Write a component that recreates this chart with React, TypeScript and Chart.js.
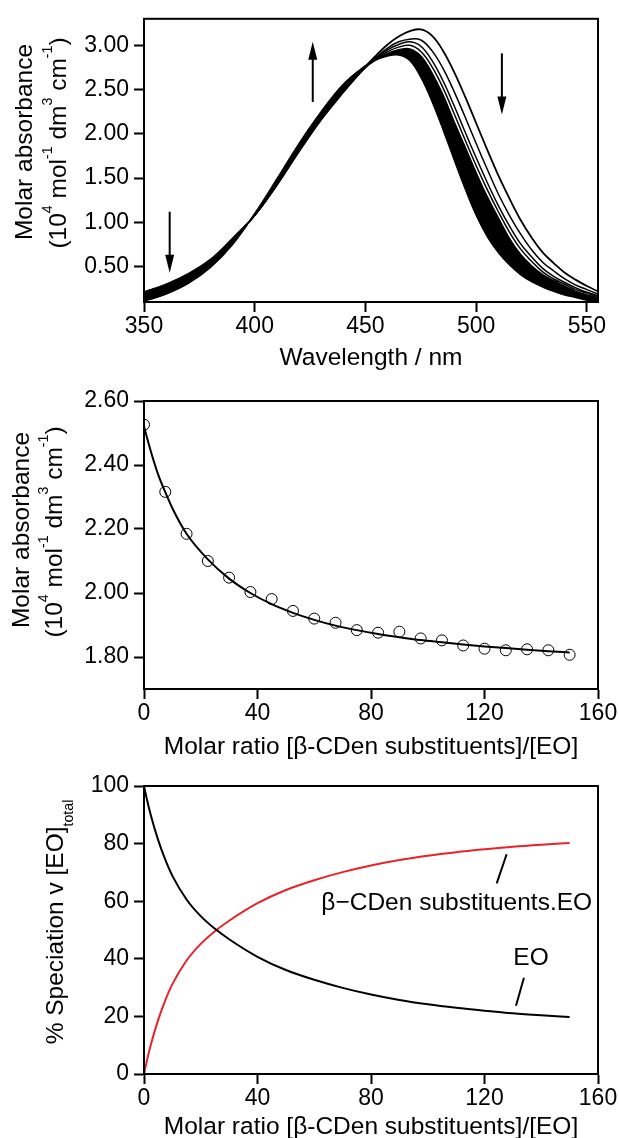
import { useEffect, useRef } from "react";
import { Chart, registerables } from "chart.js";

Chart.register(...registerables);

const FONT = '"Liberation Sans", Arial, Helvetica, sans-serif';
const TICK_SIZE = 23;
const TITLE_SIZE = 24.5;

// ---------------- Panel 1 : spectra ----------------
const wavelengths = [350, 360, 370, 380, 390, 400, 410, 420, 430, 440, 450, 455, 460, 465, 470, 475, 480, 485, 490, 495, 500, 505, 510, 515, 520, 525, 530, 535, 540, 545, 550, 555];
const absFreeEO = [0.21, 0.30, 0.42, 0.58, 0.82, 1.08, 1.42, 1.80, 2.16, 2.47, 2.76, 2.89, 3.01, 3.10, 3.16, 3.18, 3.11, 2.94, 2.70, 2.42, 2.12, 1.82, 1.53, 1.27, 1.03, 0.83, 0.66, 0.54, 0.43, 0.35, 0.28, 0.22];
const absSecond = [0.21, 0.29, 0.41, 0.57, 0.81, 1.08, 1.43, 1.81, 2.17, 2.48, 2.76, 2.87, 2.97, 3.04, 3.07, 3.06, 2.94, 2.74, 2.48, 2.19, 1.89, 1.60, 1.32, 1.08, 0.87, 0.69, 0.55, 0.45, 0.36, 0.29, 0.24, 0.19];
const absThird = [0.20, 0.29, 0.41, 0.57, 0.81, 1.08, 1.43, 1.82, 2.18, 2.49, 2.76, 2.86, 2.95, 3.01, 3.04, 2.99, 2.83, 2.60, 2.32, 2.02, 1.73, 1.45, 1.19, 0.96, 0.76, 0.61, 0.48, 0.39, 0.32, 0.26, 0.21, 0.17];
const absFourth = [0.21, 0.29, 0.41, 0.57, 0.81, 1.08, 1.43, 1.81, 2.17, 2.48, 2.75, 2.85, 2.93, 2.98, 3.00, 2.93, 2.76, 2.52, 2.23, 1.93, 1.64, 1.37, 1.12, 0.89, 0.70, 0.56, 0.44, 0.36, 0.30, 0.24, 0.20, 0.16];
const bandRedEdge = [0.21, 0.29, 0.41, 0.57, 0.81, 1.08, 1.43, 1.81, 2.17, 2.48, 2.75, 2.84, 2.91, 2.95, 2.96, 2.88, 2.69, 2.44, 2.14, 1.85, 1.56, 1.29, 1.05, 0.82, 0.64, 0.51, 0.41, 0.34, 0.28, 0.22, 0.18, 0.15];
const bandBlueEdge = [0.11, 0.19, 0.31, 0.49, 0.75, 1.10, 1.49, 1.89, 2.25, 2.56, 2.77, 2.84, 2.88, 2.89, 2.83, 2.64, 2.37, 2.05, 1.71, 1.38, 1.08, 0.84, 0.66, 0.52, 0.41, 0.33, 0.27, 0.22, 0.18, 0.15, 0.12, 0.10];
const p1XTicks = [350, 400, 450, 500, 550];
const p1YTicks = [0.5, 1.0, 1.5, 2.0, 2.5, 3.0];
// arrows: [wavelength, start absorbance, tip absorbance]
const p1Arrows = [
  [361.6, 1.12, 0.43],
  [426.2, 2.36, 3.04],
  [511.6, 2.91, 2.22],
];

// ---------------- Panel 2 : titration ----------------
const ratioPoints = [0, 7.5, 15, 22.5, 30, 37.5, 45, 52.5, 60, 67.5, 75, 82.5, 90, 97.5, 105, 112.5, 120, 127.5, 135, 142.5, 150];
const absPoints = [2.526, 2.316, 2.185, 2.100, 2.048, 2.003, 1.981, 1.944, 1.920, 1.907, 1.884, 1.876, 1.879, 1.858, 1.852, 1.836, 1.826, 1.821, 1.824, 1.821, 1.807];
const fitRatio = [0, 2.5, 5, 7.5, 10, 15, 22.5, 30, 37.5, 45, 52.5, 60, 67.5, 75, 82.5, 90, 97.5, 105, 112.5, 120, 127.5, 135, 142.5, 150];
const fitAbs = [2.52, 2.44, 2.37, 2.315, 2.265, 2.185, 2.105, 2.045, 2.0, 1.965, 1.938, 1.916, 1.898, 1.884, 1.872, 1.862, 1.853, 1.846, 1.839, 1.833, 1.828, 1.823, 1.818, 1.814];
const ratioTicks = [0, 40, 80, 120, 160];
const p2YTicks = [1.8, 2.0, 2.2, 2.4, 2.6];

// ---------------- Panel 3 : speciation ----------------
const specRatio = [0, 1, 2.5, 5, 7.5, 10, 15, 20, 25, 30, 40, 50, 60, 70, 80, 90, 100, 110, 120, 130, 140, 150];
const freeEO = [100, 95.5, 89.5, 81.2, 74.4, 68.8, 60.6, 54.8, 50.4, 46.8, 40.7, 36.1, 32.7, 29.9, 27.6, 25.7, 24.2, 23.0, 22.0, 21.1, 20.4, 19.8];
const complexEO = [0, 4.5, 10.5, 18.8, 25.6, 31.2, 39.4, 45.2, 49.6, 53.2, 59.3, 63.9, 67.3, 70.1, 72.4, 74.3, 75.8, 77.0, 78.0, 78.9, 79.6, 80.2];
const p3YTicks = [0, 20, 40, 60, 80, 100];
// labels: [text, x, y] in data units; leaders: [x0, y0, x1, y1]
const p3Labels: [string, number, number][] = [
  ["\u03B2\u2212CDen substituents.EO", 110.2, 59.2],
  ["EO", 136.4, 40.1],
];
const p3Leaders = [
  [127.8, 76.3, 124.3, 66.2],
  [133.9, 33.4, 131.1, 23.7],
];

const RED = "#e8232a";

type Seg = { t: string; s?: "sup" | "sub" };
const unitSegs: Seg[] = [
  { t: "(10" }, { t: "4", s: "sup" }, { t: " mol" }, { t: "-1", s: "sup" },
  { t: " dm" }, { t: "3", s: "sup" }, { t: " cm" }, { t: "-1", s: "sup" }, { t: ")" },
];
const molarSegs: Seg[] = [{ t: "Molar absorbance" }];
const specSegs: Seg[] = [{ t: "% Speciation v [EO]" }, { t: "total", s: "sub" }];

function xy(xs: number[], ys: number[]) {
  return xs.map((x, i) => ({ x, y: ys[i] }));
}

function drawVerticalRich(ctx: CanvasRenderingContext2D, segs: Seg[], baseX: number, cy: number, size: number) {
  ctx.save();
  ctx.translate(baseX, cy);
  ctx.rotate(-Math.PI / 2);
  ctx.fillStyle = "#000";
  ctx.textAlign = "left";
  ctx.textBaseline = "alphabetic";
  const small = size * 0.58;
  const widths = segs.map((sg) => {
    ctx.font = `${sg.s ? small : size}px ${FONT}`;
    return ctx.measureText(sg.t).width;
  });
  const total = widths.reduce((a, b) => a + b, 0);
  let u = -total / 2;
  segs.forEach((sg, i) => {
    ctx.font = `${sg.s ? small : size}px ${FONT}`;
    const dv = sg.s === "sup" ? -size * 0.58 : sg.s === "sub" ? size * 0.4 : 0;
    ctx.fillText(sg.t, u, dv);
    u += widths[i];
  });
  ctx.restore();
}

function drawText(ctx: CanvasRenderingContext2D, text: string, x: number, y: number, size: number, baseline: CanvasTextBaseline) {
  ctx.save();
  ctx.fillStyle = "#000";
  ctx.font = `${size}px ${FONT}`;
  ctx.textAlign = "center";
  ctx.textBaseline = baseline;
  ctx.fillText(text, x, y);
  ctx.restore();
}

function drawFrame(chart: any) {
  const { left, right, top, bottom } = chart.chartArea;
  const ctx = chart.ctx as CanvasRenderingContext2D;
  ctx.save();
  ctx.strokeStyle = "#000";
  ctx.lineWidth = 2;
  ctx.strokeRect(left, top, right - left, bottom - top);
  ctx.restore();
}

function axis(min: number, max: number, ticks: number[], decimals: number, fixed: number, vertical: boolean) {
  return {
    type: "linear",
    min,
    max,
    afterBuildTicks: (s: any) => {
      s.ticks = ticks.map((v) => ({ value: v }));
    },
    afterFit: (s: any) => {
      if (vertical) s.width = fixed;
      else s.height = fixed;
    },
    ticks: {
      autoSkip: false,
      maxRotation: 0,
      minRotation: 0,
      padding: vertical ? 5 : 1,
      color: "#000",
      font: { family: FONT, size: TICK_SIZE },
      callback: (v: any) => Number(v).toFixed(decimals),
    },
    grid: {
      display: true,
      drawOnChartArea: false,
      drawTicks: true,
      tickLength: 10,
      tickWidth: 2,
      tickColor: "#000",
    },
    border: { display: true, color: "#000", width: 2 },
    title: { display: false },
  };
}

function baseOptions(padding: any, scales: any) {
  return {
    responsive: false,
    animation: false,
    devicePixelRatio: 1,
    layout: { padding },
    plugins: { legend: { display: false }, tooltip: { enabled: false } },
    elements: { point: { radius: 0 } },
    scales,
  };
}

function lineDs(data: any, color: string, width: number, extra: any = {}) {
  return {
    data,
    borderColor: color,
    borderWidth: width,
    pointRadius: 0,
    fill: false,
    cubicInterpolationMode: "monotone",
    ...extra,
  };
}

const smooth = { cubicInterpolationMode: "default", tension: 0.4 };

function config1(): any {
  return {
    type: "line",
    data: {
      datasets: [
        lineDs(xy(wavelengths, bandBlueEdge), "#000", 1.5, smooth),
        lineDs(xy(wavelengths, bandRedEdge), "#000", 1.5, { ...smooth, fill: "-1", backgroundColor: "#000" }),
        lineDs(xy(wavelengths, absFourth), "#000", 1.5, smooth),
        lineDs(xy(wavelengths, absThird), "#000", 1.5, smooth),
        lineDs(xy(wavelengths, absSecond), "#000", 1.5, smooth),
        lineDs(xy(wavelengths, absFreeEO), "#000", 1.8, smooth),
      ],
    },
    options: baseOptions(
      { top: 15, right: 21, left: 0, bottom: 0 },
      {
        x: axis(350, 555, p1XTicks, 0, 70, false),
        y: axis(0.1, 3.3, p1YTicks, 2, 144, true),
      }
    ),
    plugins: [
      {
        id: "deco1",
        afterDraw(chart: any) {
          const ctx = chart.ctx as CanvasRenderingContext2D;
          drawFrame(chart);
          const xs = chart.scales.x;
          const ys = chart.scales.y;
          ctx.save();
          ctx.strokeStyle = "#000";
          ctx.fillStyle = "#000";
          p1Arrows.forEach(([wl, a0, a1]) => {
            const x = xs.getPixelForValue(wl);
            const y0 = ys.getPixelForValue(a0);
            const y1 = ys.getPixelForValue(a1);
            const dir = Math.sign(y1 - y0);
            const headLen = 18;
            const half = 4.5;
            ctx.beginPath();
            ctx.lineWidth = 2;
            ctx.moveTo(x, y0);
            ctx.lineTo(x, y1 - dir * headLen * 0.7);
            ctx.stroke();
            ctx.beginPath();
            ctx.moveTo(x, y1);
            ctx.lineTo(x - half, y1 - dir * headLen);
            ctx.lineTo(x + half, y1 - dir * headLen);
            ctx.closePath();
            ctx.fill();
          });
          ctx.restore();
          const cx = (chart.chartArea.left + chart.chartArea.right) / 2;
          drawText(ctx, "Wavelength / nm", cx, 365, TITLE_SIZE, "alphabetic");
          drawVerticalRich(ctx, molarSegs, 32, 142, TITLE_SIZE);
          drawVerticalRich(ctx, unitSegs, 66, 143, TITLE_SIZE);
        },
      },
    ],
  };
}

function config2(): any {
  return {
    type: "line",
    data: {
      datasets: [
        lineDs(xy(fitRatio, fitAbs), "#000", 2),
        {
          data: xy(ratioPoints, absPoints),
          showLine: false,
          pointRadius: 5.5,
          pointStyle: "circle",
          pointBorderColor: "#000",
          pointBackgroundColor: "rgba(0,0,0,0)",
          pointBorderWidth: 1,
          borderColor: "#000",
          backgroundColor: "rgba(0,0,0,0)",
        },
      ],
    },
    options: baseOptions(
      { top: 29, right: 21, left: 0, bottom: 0 },
      {
        x: axis(0, 160, ratioTicks, 0, 73, false),
        y: axis(1.7, 2.6, p2YTicks, 2, 144, true),
      }
    ),
    plugins: [
      {
        id: "deco2",
        afterDraw(chart: any) {
          const ctx = chart.ctx as CanvasRenderingContext2D;
          drawFrame(chart);
          const cx = (chart.chartArea.left + chart.chartArea.right) / 2;
          drawText(ctx, "Molar ratio [\u03B2-CDen substituents]/[EO]", cx, 382, TITLE_SIZE, "alphabetic");
          drawVerticalRich(ctx, molarSegs, 29, 158, TITLE_SIZE);
          drawVerticalRich(ctx, unitSegs, 62, 160, TITLE_SIZE);
        },
      },
    ],
  };
}

function config3(): any {
  return {
    type: "line",
    data: {
      datasets: [
        lineDs(xy(specRatio, freeEO), "#000", 2),
        lineDs(xy(specRatio, complexEO), RED, 2),
      ],
    },
    options: baseOptions(
      { top: 24, right: 21, left: 0, bottom: 0 },
      {
        x: axis(0, 160, ratioTicks, 0, 64, false),
        y: axis(0, 100, p3YTicks, 0, 144, true),
      }
    ),
    plugins: [
      {
        id: "deco3",
        afterDraw(chart: any) {
          const ctx = chart.ctx as CanvasRenderingContext2D;
          drawFrame(chart);
          const xs = chart.scales.x;
          const ys = chart.scales.y;
          ctx.save();
          ctx.strokeStyle = "#000";
          ctx.lineWidth = 2;
          p3Leaders.forEach(([x0, y0, x1, y1]) => {
            ctx.beginPath();
            ctx.moveTo(xs.getPixelForValue(x0), ys.getPixelForValue(y0));
            ctx.lineTo(xs.getPixelForValue(x1), ys.getPixelForValue(y1));
            ctx.stroke();
          });
          ctx.restore();
          p3Labels.forEach(([t, x, y]) => {
            drawText(ctx, t, xs.getPixelForValue(x), ys.getPixelForValue(y), TITLE_SIZE, "middle");
          });
          const cx = (chart.chartArea.left + chart.chartArea.right) / 2;
          drawText(ctx, "Molar ratio [\u03B2-CDen substituents]/[EO]", cx, 372, TITLE_SIZE, "alphabetic");
          drawVerticalRich(ctx, specSegs, 63, 160, TITLE_SIZE);
        },
      },
    ],
  };
}

export default function App() {
  const r1 = useRef<HTMLCanvasElement>(null);
  const r2 = useRef<HTMLCanvasElement>(null);
  const r3 = useRef<HTMLCanvasElement>(null);

  useEffect(() => {
    const charts = [
      new Chart(r1.current as HTMLCanvasElement, config1()),
      new Chart(r2.current as HTMLCanvasElement, config2()),
      new Chart(r3.current as HTMLCanvasElement, config3()),
    ];
    return () => charts.forEach((c) => c.destroy());
  }, []);

  return (
    <div style={{ position: "absolute", left: 0, top: 0, width: 619, height: 1138, background: "#fff", overflow: "hidden" }}>
      <canvas ref={r1} width={619} height={372} style={{ position: "absolute", left: 0, top: 0, width: 619, height: 372 }} />
      <canvas ref={r2} width={619} height={390} style={{ position: "absolute", left: 0, top: 372, width: 619, height: 390 }} />
      <canvas ref={r3} width={619} height={376} style={{ position: "absolute", left: 0, top: 762, width: 619, height: 376 }} />
    </div>
  );
}
